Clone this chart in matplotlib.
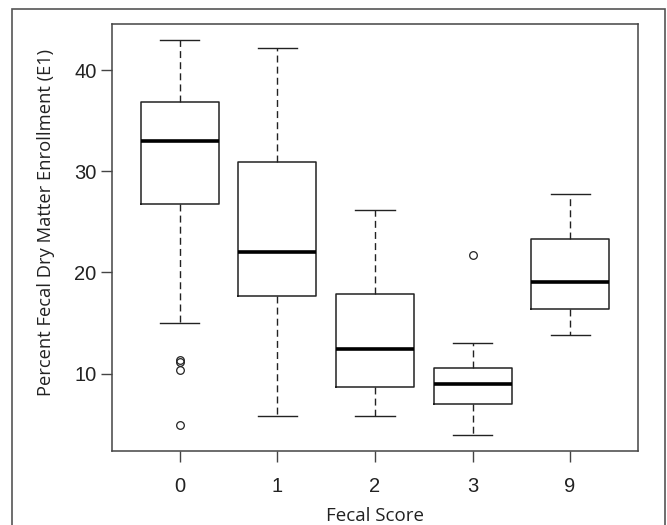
import matplotlib
matplotlib.use("Agg")
import matplotlib.pyplot as plt
from matplotlib.patches import Rectangle

plt.rcParams["font.family"] = ["Liberation Sans", "DejaVu Sans"]

categories = ["0", "1", "2", "3", "9"]
whisker_low = [15.0, 5.8, 5.8, 3.9, 13.85]
q1 = [26.75, 17.7, 8.7, 7.0, 16.4]
median = [33.0, 22.0, 12.45, 9.0, 19.05]
q3 = [36.8, 30.9, 17.9, 10.5, 23.3]
whisker_high = [43.0, 42.2, 26.2, 13.0, 27.8]
outliers = [[11.3, 11.1, 10.3, 4.9], [], [], [21.7], []]

stats = []
for i, c in enumerate(categories):
    stats.append(dict(label=c, whislo=whisker_low[i], q1=q1[i], med=median[i],
                      q3=q3[i], whishi=whisker_high[i], fliers=outliers[i]))

fig = plt.figure(figsize=(6.67, 5.25), dpi=100)
ax = fig.add_axes([111.7/667, 1-451/525, (638.3-111.7)/667, (451-24)/525])

ax.bxp(stats, positions=range(1, 6), widths=0.8, patch_artist=False,
       boxprops=dict(color="#222222", linewidth=1.1),
       medianprops=dict(color="black", linewidth=2.6, solid_capstyle="butt"),
       whiskerprops=dict(color="#222222", linewidth=1.0, linestyle=(0, (5, 3))),
       capprops=dict(color="#222222", linewidth=1.0),
       capwidths=0.4,
       flierprops=dict(marker="o", markersize=5.5, markerfacecolor="none",
                       markeredgecolor="#222222", markeredgewidth=0.9))

ax.set_xlim(0.3, 5.7)
ax.set_ylim(2.34, 44.56)
ax.set_yticks([10, 20, 30, 40])
ax.set_xticks(range(1, 6))
ax.set_xticklabels(categories)
for s in ax.spines.values():
    s.set_color("#444444")
    s.set_linewidth(1.1)
ax.tick_params(axis="both", colors="#444444", labelcolor="#222222",
               length=8, width=1.0, labelsize=14.5)
ax.tick_params(axis="x", pad=11)
ax.tick_params(axis="y", pad=3)

fig.text(375/667, 1-516/525, "Fecal Score", ha="center", va="center",
         fontsize=13.5, family="Open Sans", color="#222222")
fig.text(46/667, 1-222/525, "Percent Fecal Dry Matter Enrollment (E1)", ha="center",
         va="center", rotation=90, fontsize=13.2, family="Open Sans", color="#222222")

frame = Rectangle((12.3/667, -0.05), (665-12.3)/667, 1-9/525+0.05,
                  transform=fig.transFigure, fill=False, edgecolor="#555555",
                  linewidth=1.2, clip_on=False)
fig.patches.append(frame)

fig.savefig("out.png", dpi=100)
